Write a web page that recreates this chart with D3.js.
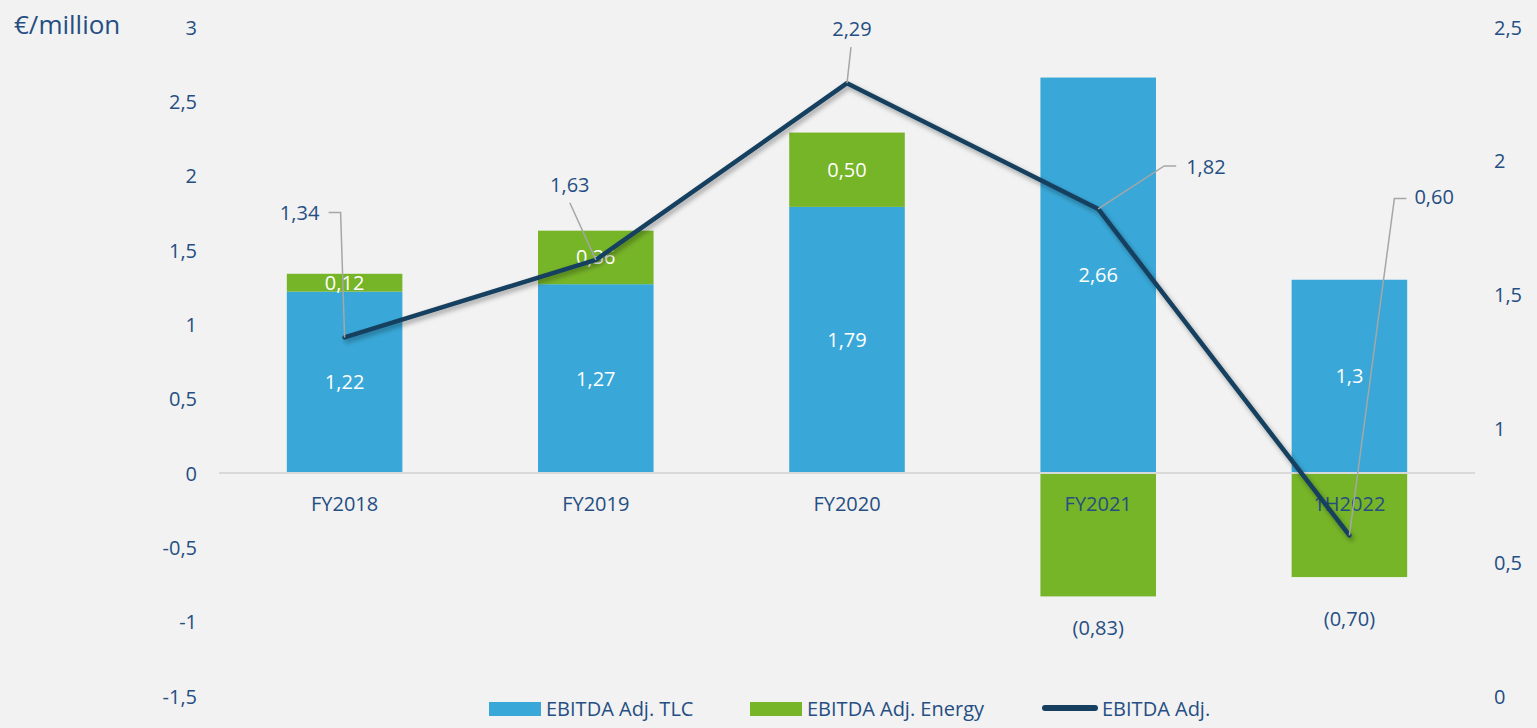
<!DOCTYPE html>
<html><head><meta charset="utf-8">
<script src="https://cdn.jsdelivr.net/npm/d3@7"></script>
<style>
html,body{margin:0;padding:0;background:#f2f2f2;}
svg{display:block;font-family:"Open Sans",sans-serif;}
</style></head>
<body>
<svg id="c" width="1537" height="728"></svg>
<script>
const categories = ["FY2018","FY2019","FY2020","FY2021","1H2022"];
const tlcValues = [1.22, 1.27, 1.79, 2.66, 1.3];
const energyValues = [0.12, 0.36, 0.50, -0.83, -0.70];
const ebitdaValues = [1.34, 1.63, 2.29, 1.82, 0.60];
const tlcLabels = ["1,22","1,27","1,79","2,66","1,3"];
const energyLabels = ["0,12","0,36","0,50","(0,83)","(0,70)"];
const ebitdaLabels = ["1,34","1,63","2,29","1,82","0,60"];
const leftTicks = [-1.5,-1,-0.5,0,0.5,1,1.5,2,2.5,3];
const rightTicks = [0,0.5,1,1.5,2,2.5];
const seriesNames = ["EBITDA Adj. TLC","EBITDA Adj. Energy","EBITDA Adj."];

const BLUE="#39a8d8", GREEN="#76b428", LINE="#173f5f", TXT="#254e82", GREY="#a6a6a6";
const fmt = v => String(v).replace(".",",");

const svg = d3.select("#c");
const defs = svg.append("defs");
const f = defs.append("filter").attr("id","sh").attr("x","-10%").attr("y","-10%").attr("width","120%").attr("height","130%");
f.append("feDropShadow").attr("dx",2).attr("dy",3).attr("stdDeviation",2.5).attr("flood-color","#000").attr("flood-opacity",0.35);

const x = d3.scaleBand().domain(categories).range([219,1475]).paddingInner(0.54).paddingOuter(0.27);
const yL = d3.scaleLinear().domain([-1.5,3]).range([696,27]);
const yR = d3.scaleLinear().domain([0,2.5]).range([696,27]);

// left axis
const la = svg.append("g").attr("transform","translate(197,0)")
  .call(d3.axisLeft(yL).tickValues(leftTicks).tickSize(0).tickPadding(0).tickFormat(fmt));
la.select(".domain").remove();
la.selectAll("text").attr("fill",TXT).attr("font-size",20).attr("font-family","Open Sans").attr("dy","0.35em");

// right axis
const ra = svg.append("g").attr("transform","translate(1494,0)")
  .call(d3.axisRight(yR).tickValues(rightTicks).tickSize(0).tickPadding(0).tickFormat(fmt));
ra.select(".domain").remove();
ra.selectAll("text").attr("fill",TXT).attr("font-size",20).attr("font-family","Open Sans").attr("dy","0.35em");

svg.append("text").attr("x",14).attr("y",34).attr("fill",TXT).attr("font-size",26).text("€/million");

// bars
const g = svg.append("g");
g.selectAll(".tlc").data(categories).join("rect")
  .attr("x",d=>x(d)).attr("width",x.bandwidth())
  .attr("y",(d,i)=>yL(tlcValues[i])).attr("height",(d,i)=>yL(0)-yL(tlcValues[i]))
  .attr("fill",BLUE);
g.selectAll(".en").data(categories).join("rect")
  .attr("x",d=>x(d)).attr("width",x.bandwidth())
  .attr("y",(d,i)=> energyValues[i]>=0 ? yL(tlcValues[i]+energyValues[i]) : yL(0))
  .attr("height",(d,i)=>Math.abs(yL(0)-yL(energyValues[i])))
  .attr("fill",GREEN);

// zero line
svg.append("line").attr("x1",219).attr("x2",1475).attr("y1",yL(0)).attr("y2",yL(0))
  .attr("stroke","#d9d9d9").attr("stroke-width",2);

// category labels
svg.selectAll(".cat").data(categories).join("text")
  .attr("x",d=>x(d)+x.bandwidth()/2).attr("y",yL(0)+38)
  .attr("text-anchor","middle").attr("fill",TXT).attr("font-size",20).text(d=>d);

// bar labels
svg.selectAll(".tl").data(categories).join("text")
  .attr("x",d=>x(d)+x.bandwidth()/2).attr("y",(d,i)=>yL(tlcValues[i]/2)).attr("dy","0.35em")
  .attr("text-anchor","middle").attr("fill","#fff").attr("font-size",20).text((d,i)=>tlcLabels[i]);
const negDy = [0,0,0,32,42];
svg.selectAll(".el").data(categories).join("text")
  .attr("x",d=>x(d)+x.bandwidth()/2)
  .attr("y",(d,i)=> energyValues[i]>=0 ? yL(tlcValues[i]+energyValues[i]/2) : yL(energyValues[i])+negDy[i])
  .attr("dy","0.35em")
  .attr("text-anchor","middle").attr("fill",(d,i)=>energyValues[i]>=0?"#fff":TXT).attr("font-size",20)
  .text((d,i)=>energyLabels[i]);

// line
const pts = categories.map((c,i)=>[x(c)+x.bandwidth()/2, yR(ebitdaValues[i])]);
svg.append("path").attr("d",d3.line()(pts)).attr("fill","none").attr("stroke",LINE)
  .attr("stroke-width",4.5).attr("stroke-linejoin","round").attr("stroke-linecap","round").attr("filter","url(#sh)");

// callouts (label offset and leader line relative to the point)
const callouts = [
  {lx:-45, ly:-124, path:[[0,0],[-4,-125],[-16,-125]], anchor:"middle"},
  {lx:-26, ly:-75, path:[[0,0],[-26,-57]], anchor:"middle"},
  {lx:5, ly:-54, path:[[0,0],[4,-36]], anchor:"middle"},
  {lx:88, ly:-42, path:[[0,0],[66,-43],[78,-43]], anchor:"start"},
  {lx:65, ly:-338, path:[[0,0],[45,-337],[57,-337]], anchor:"start"}
];
callouts.forEach((c,i)=>{
  const [px,py]=pts[i];
  svg.append("path").attr("d",d3.line()(c.path.map(p=>[px+p[0],py+p[1]])))
    .attr("fill","none").attr("stroke",GREY).attr("stroke-width",1.5);
  svg.append("text").attr("x",px+c.lx).attr("y",py+c.ly).attr("dy","0.35em")
    .attr("text-anchor",c.anchor).attr("fill",TXT).attr("font-size",20).text(ebitdaLabels[i]);
});

// legend
const leg = svg.append("g");
leg.append("rect").attr("x",489).attr("y",702).attr("width",52).attr("height",14).attr("fill",BLUE);
leg.append("text").attr("x",546).attr("y",716).attr("fill",TXT).attr("font-size",20).text(seriesNames[0]);
leg.append("rect").attr("x",750).attr("y",702).attr("width",52).attr("height",14).attr("fill",GREEN);
leg.append("text").attr("x",807).attr("y",716).attr("fill",TXT).attr("font-size",20).text(seriesNames[1]);
leg.append("line").attr("x1",1045).attr("x2",1095).attr("y1",708).attr("y2",708)
  .attr("stroke",LINE).attr("stroke-width",6).attr("stroke-linecap","round");
leg.append("text").attr("x",1102).attr("y",716).attr("fill",TXT).attr("font-size",20).text(seriesNames[2]);
</script>
</body></html>
